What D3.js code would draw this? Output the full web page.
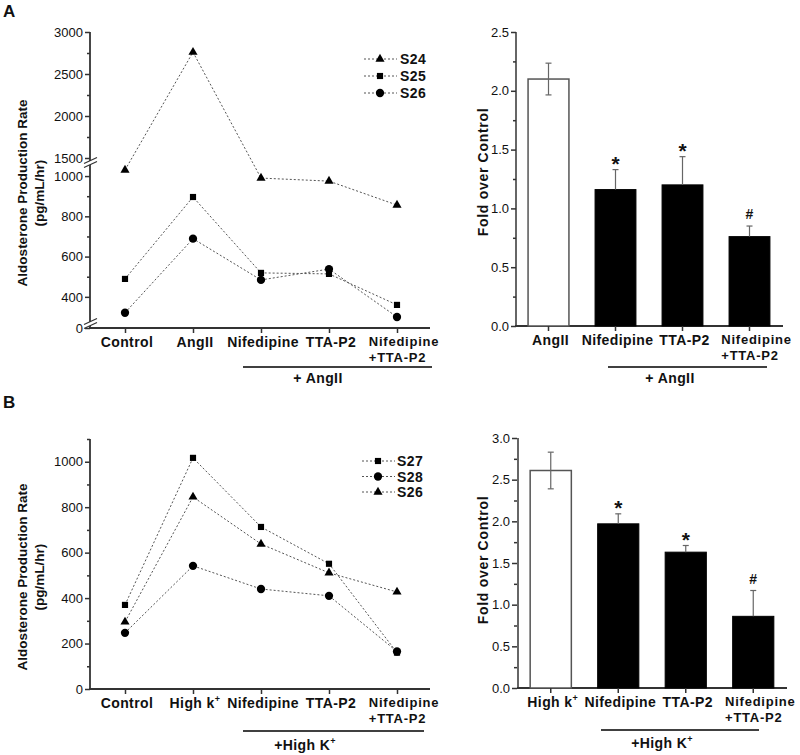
<!DOCTYPE html>
<html><head><meta charset="utf-8">
<script src="https://cdn.jsdelivr.net/npm/d3@7"></script>
<style>
body{margin:0;background:#fff}
text{font-family:"Liberation Sans",Arial,sans-serif;fill:#111}
</style>
</head><body>
<svg id="c" width="800" height="755"></svg>
<script>
// ---------------- DATA ----------------
const lineCatsA = ["Control", "AngII", "Nifedipine", "TTA-P2", "Nifedipine|+TTA-P2"];
const lineCatsB = ["Control", "High k|sup", "Nifedipine", "TTA-P2", "Nifedipine|+TTA-P2"];
const seriesNamesA = ["S24", "S25", "S26"];
const seriesSymA = ["triangle", "square", "circle"];
const S24 = [1030, 2760, 990, 975, 856];
const S25 = [489, 896, 519, 514, 360];
const S26a = [321, 689, 484, 538, 300];
const seriesNamesB = ["S27", "S28", "S26"];
const seriesSymB = ["square", "circle", "triangle"];
const S27 = [370, 1017, 713, 551, 160];
const S28 = [247, 542, 440, 410, 165];
const S26b = [295, 845, 638, 511, 427];

const barCatsA = ["AngII", "Nifedipine", "TTA-P2", "Nifedipine|+TTA-P2"];
const barMeansA = [2.10, 1.16, 1.20, 0.76];
const barErrsA = [0.135, 0.17, 0.24, 0.09];
const barCatsB = ["High k|sup", "Nifedipine", "TTA-P2", "Nifedipine|+TTA-P2"];
const barMeansB = [2.61, 1.97, 1.63, 0.86];
const barErrsB = [0.22, 0.12, 0.08, 0.31];
const barSig = ["", "*", "*", "#"];

const yTicksA = [0, 400, 600, 800, 1000, 1500, 2000, 2500, 3000];
const yMinorA = [500, 700, 900, 1750, 2250, 2750];
const yTicksB = [0, 200, 400, 600, 800, 1000];
const yMinorB = [100, 300, 500, 700, 900, 1100];
const barTicksA = [0, 0.5, 1.0, 1.5, 2.0, 2.5];
const barMinorA = [0.25, 0.75, 1.25, 1.75, 2.25];
const barTicksB = [0, 0.5, 1.0, 1.5, 2.0, 2.5, 3.0];
const barMinorB = [0.25, 0.75, 1.25, 1.75, 2.25, 2.75];

// ---------------- HELPERS ----------------
const svg = d3.select("#c");
const AX = "#333";
const CAT_FS = "14px", CAT_LS = "0.4px";
const CAT2_FS = "13px", CAT2_LS = "0.75px";
const symMap = {triangle: d3.symbolTriangle, square: d3.symbolSquare, circle: d3.symbolCircle};
const symSize = {triangle: 36, square: 38, circle: 54};

function styleAxis(g, fs) {
  g.selectAll(".domain").remove();
  g.selectAll(".tick line").attr("stroke", AX).attr("stroke-width", 1.5);
  g.selectAll(".tick text").style("font-size", fs || "13px").style("fill", "#111")
    .attr("font-family", '"Liberation Sans", Arial, sans-serif');
}

function yAxis(x0, scale, major, minor, fmt) {
  const g = svg.append("g").attr("transform", `translate(${x0},0)`);
  g.call(d3.axisLeft(scale).tickValues(major).tickSize(5).tickPadding(2).tickFormat(fmt));
  styleAxis(g);
  const gm = svg.append("g").attr("transform", `translate(${x0},0)`);
  gm.call(d3.axisLeft(scale).tickValues(minor).tickSize(3).tickFormat(""));
  styleAxis(gm);
}

function catLabel(x, y, label) {
  const parts = label.split("|");
  const t = svg.append("text").attr("y", y).attr("font-weight", "bold")
    .style("font-size", CAT_FS).style("letter-spacing", CAT_LS);
  if (parts.length === 2 && parts[1] === "sup") {
    t.attr("x", x + 2).attr("text-anchor", "middle");
    t.append("tspan").text(parts[0]);
    t.append("tspan").text("+").attr("dy", -6).style("font-size", "9px");
  } else if (parts.length === 2) {
    t.attr("y", y - 1).attr("x", x + 7).attr("text-anchor", "middle")
      .style("font-size", CAT2_FS).style("letter-spacing", CAT2_LS).text(parts[0]);
    const w = t.node().getComputedTextLength();
    svg.append("text").attr("x", x + 7 - w / 2).attr("y", y + 14.5).attr("font-weight", "bold")
      .style("font-size", CAT2_FS).style("letter-spacing", CAT2_LS).text(parts[1]);
  } else {
    t.attr("x", x + 2).attr("text-anchor", "middle").text(parts[0]);
  }
}

function groupNote(x1, x2, yLine, tx, ty, label, sup) {
  svg.append("line").attr("x1", x1).attr("x2", x2).attr("y1", yLine).attr("y2", yLine)
    .attr("stroke", "#000").attr("stroke-width", 1.5);
  const t = svg.append("text").attr("x", tx).attr("y", ty).attr("text-anchor", "middle")
    .attr("font-weight", "bold").style("font-size", CAT_FS).style("letter-spacing", CAT_LS).text(label);
  if (sup) t.append("tspan").text("+").attr("dy", -6).style("font-size", "9px");
}

function yTitle(cx, cy, lines, fs, ls) {
  lines.forEach((l, i) => {
    svg.append("text").attr("transform", `translate(${cx + i * 17},${cy}) rotate(-90)`)
      .attr("text-anchor", "middle").attr("font-weight", "bold")
      .style("font-size", fs).style("letter-spacing", ls).text(l);
  });
}

function lineChart(opts) {
  const {x, y, series, names, syms, cats, axisY0, legend} = opts;
  svg.append("line").attr("x1", 89).attr("x2", 430).attr("y1", axisY0).attr("y2", axisY0)
    .attr("stroke", AX).attr("stroke-width", 1.8);
  const gx = svg.append("g").attr("transform", `translate(0,${axisY0})`);
  gx.call(d3.axisBottom(x).tickSize(5).tickFormat(""));
  styleAxis(gx);
  cats.forEach(c => catLabel(x(c), axisY0 + 19, c));
  const line = d3.line().x((d, i) => x(cats[i])).y(d => y(d));
  series.forEach((s, k) => {
    svg.append("path").datum(s).attr("d", line).attr("fill", "none")
      .attr("stroke", "#555").attr("stroke-width", 1).attr("stroke-dasharray", "2,2");
    svg.selectAll(null).data(s).join("path")
      .attr("transform", (d, i) => `translate(${x(cats[i])},${y(d)})`)
      .attr("d", d3.symbol().type(symMap[syms[k]]).size(symSize[syms[k]]))
      .attr("fill", "#000");
  });
  names.forEach((n, k) => {
    const ly = legend.y + k * legend.dy;
    svg.append("line").attr("x1", legend.x - 16).attr("x2", legend.x + 17).attr("y1", ly).attr("y2", ly)
      .attr("stroke", "#555").attr("stroke-dasharray", "2,2");
    svg.append("path").attr("transform", `translate(${legend.x},${ly})`)
      .attr("d", d3.symbol().type(symMap[syms[k]]).size(symSize[syms[k]])).attr("fill", "#000");
    svg.append("text").attr("x", legend.x + legend.tx).attr("y", ly + 5).attr("font-weight", "bold")
      .style("font-size", "14px").style("letter-spacing", "0.4px").text(n);
  });
}

function barChart(opts) {
  const {x0, x1, y, means, errs, cats, top} = opts;
  const xb = d3.scaleBand().domain(cats).range([x0, x1]).paddingInner(0.39).paddingOuter(0.195);
  const yb0 = y(0);
  svg.append("line").attr("x1", x0 + 1).attr("x2", x0 + 1).attr("y1", y(top)).attr("y2", yb0)
    .attr("stroke", AX).attr("stroke-width", 1.5);
  svg.append("line").attr("x1", x0).attr("x2", x1).attr("y1", yb0).attr("y2", yb0)
    .attr("stroke", AX).attr("stroke-width", 1.8);
  cats.forEach((c, i) => {
    const bx = xb(c), bw = xb.bandwidth(), cx = bx + bw / 2;
    const white = i === 0;
    svg.append("rect").attr("x", bx).attr("y", y(means[i])).attr("width", bw)
      .attr("height", yb0 - y(means[i]))
      .attr("fill", white ? "#fff" : "#000")
      .attr("stroke", white ? "#555" : "#000").attr("stroke-width", white ? 1.5 : 1);
    const lo = white ? means[i] - errs[i] : means[i];
    const hi = means[i] + errs[i];
    const ec = "#666";
    svg.append("line").attr("x1", cx).attr("x2", cx).attr("y1", y(lo)).attr("y2", y(hi))
      .attr("stroke", ec).attr("stroke-width", 1.2);
    svg.append("line").attr("x1", cx - 3).attr("x2", cx + 3).attr("y1", y(hi)).attr("y2", y(hi))
      .attr("stroke", ec).attr("stroke-width", 1.2);
    if (white) svg.append("line").attr("x1", cx - 3).attr("x2", cx + 3).attr("y1", y(lo)).attr("y2", y(lo))
      .attr("stroke", ec).attr("stroke-width", 1.2);
    if (barSig[i]) {
      const isStar = barSig[i] === "*";
      svg.append("text").attr("x", cx).attr("y", y(hi) - (isStar ? -1 : 7)).attr("text-anchor", "middle")
        .attr("font-weight", "bold").style("font-size", isStar ? "21px" : "14px").text(barSig[i]);
    }
    catLabel(cx, yb0 + 19, c);
  });
  const gx = svg.append("g").attr("transform", `translate(0,${yb0})`);
  gx.call(d3.axisBottom(xb).tickSize(5).tickFormat(""));
  styleAxis(gx);
}

// ---------------- PANEL LABELS ----------------
svg.append("text").attr("x", 3).attr("y", 17).attr("font-weight", "bold").style("font-size", "17px").text("A");
svg.append("text").attr("x", 3).attr("y", 408).attr("font-weight", "bold").style("font-size", "17px").text("B");

// ---------------- PANEL A ----------------
const xA = d3.scalePoint().domain(lineCatsA).range([125, 397]);
const yA = d3.scaleLinear().domain([0, 285, 1055, 1500, 3000]).range([328, 320, 165, 158, 32]);
svg.append("line").attr("x1", 90).attr("x2", 90).attr("y1", yA(3000)).attr("y2", yA(0))
  .attr("stroke", AX).attr("stroke-width", 1.8);
yAxis(90, yA, yTicksA, yMinorA, d3.format("d"));
[161.5, 322.5].forEach(cy => {
  svg.append("path").attr("d", `M84,${cy + 2} L97,${cy - 4} L97,${cy} L84,${cy + 6} Z`).attr("fill", "#fff");
  svg.append("path").attr("d", `M84,${cy + 2} L97,${cy - 4} M84,${cy + 6} L97,${cy}`)
    .attr("stroke", AX).attr("stroke-width", 1.3).attr("fill", "none");
});
lineChart({x: xA, y: yA, series: [S24, S25, S26a], names: seriesNamesA, syms: seriesSymA,
  cats: lineCatsA, axisY0: 328, legend: {x: 380, y: 59, dy: 17, tx: 20}});
yTitle(27, 193, ["Aldosterone Production Rate", "(pg/mL/hr)"], "13.5px", "0px");
groupNote(243, 432, 367, 318, 383, "+ AngII");

const yBA = d3.scaleLinear().domain([0, 2.5]).range([326, 32]);
yAxis(516, yBA, barTicksA, barMinorA, d3.format(".1f"));
barChart({x0: 515, x1: 783, y: yBA, means: barMeansA, errs: barErrsA, cats: barCatsA, top: 2.5});
yTitle(488, 172, ["Fold over Control"], "14px", "0.7px");
groupNote(608, 767, 367, 670, 383, "+ AngII");

// ---------------- PANEL B ----------------
const xB = d3.scalePoint().domain(lineCatsB).range([125, 397]);
const yB = d3.scaleLinear().domain([0, 1100]).range([689, 439]);
svg.append("line").attr("x1", 90).attr("x2", 90).attr("y1", yB(1100)).attr("y2", yB(0))
  .attr("stroke", AX).attr("stroke-width", 1.8);
yAxis(90, yB, yTicksB, yMinorB, d3.format("d"));
lineChart({x: xB, y: yB, series: [S27, S28, S26b], names: seriesNamesB, syms: seriesSymB,
  cats: lineCatsB, axisY0: 689, legend: {x: 378, y: 461, dy: 15.5, tx: 19}});
yTitle(27, 577, ["Aldosterone Production Rate", "(pg/mL/hr)"], "13.5px", "0px");
groupNote(243, 424, 731, 305, 750, "+High K", true);

const yBB = d3.scaleLinear().domain([0, 3]).range([688, 438]);
yAxis(517, yBB, barTicksB, barMinorB, d3.format(".1f"));
barChart({x0: 517, x1: 787, y: yBB, means: barMeansB, errs: barErrsB, cats: barCatsB, top: 3});
yTitle(488, 560, ["Fold over Control"], "14px", "0.7px");
groupNote(601, 759, 730, 662, 748, "+High K", true);
</script>
</body></html>
